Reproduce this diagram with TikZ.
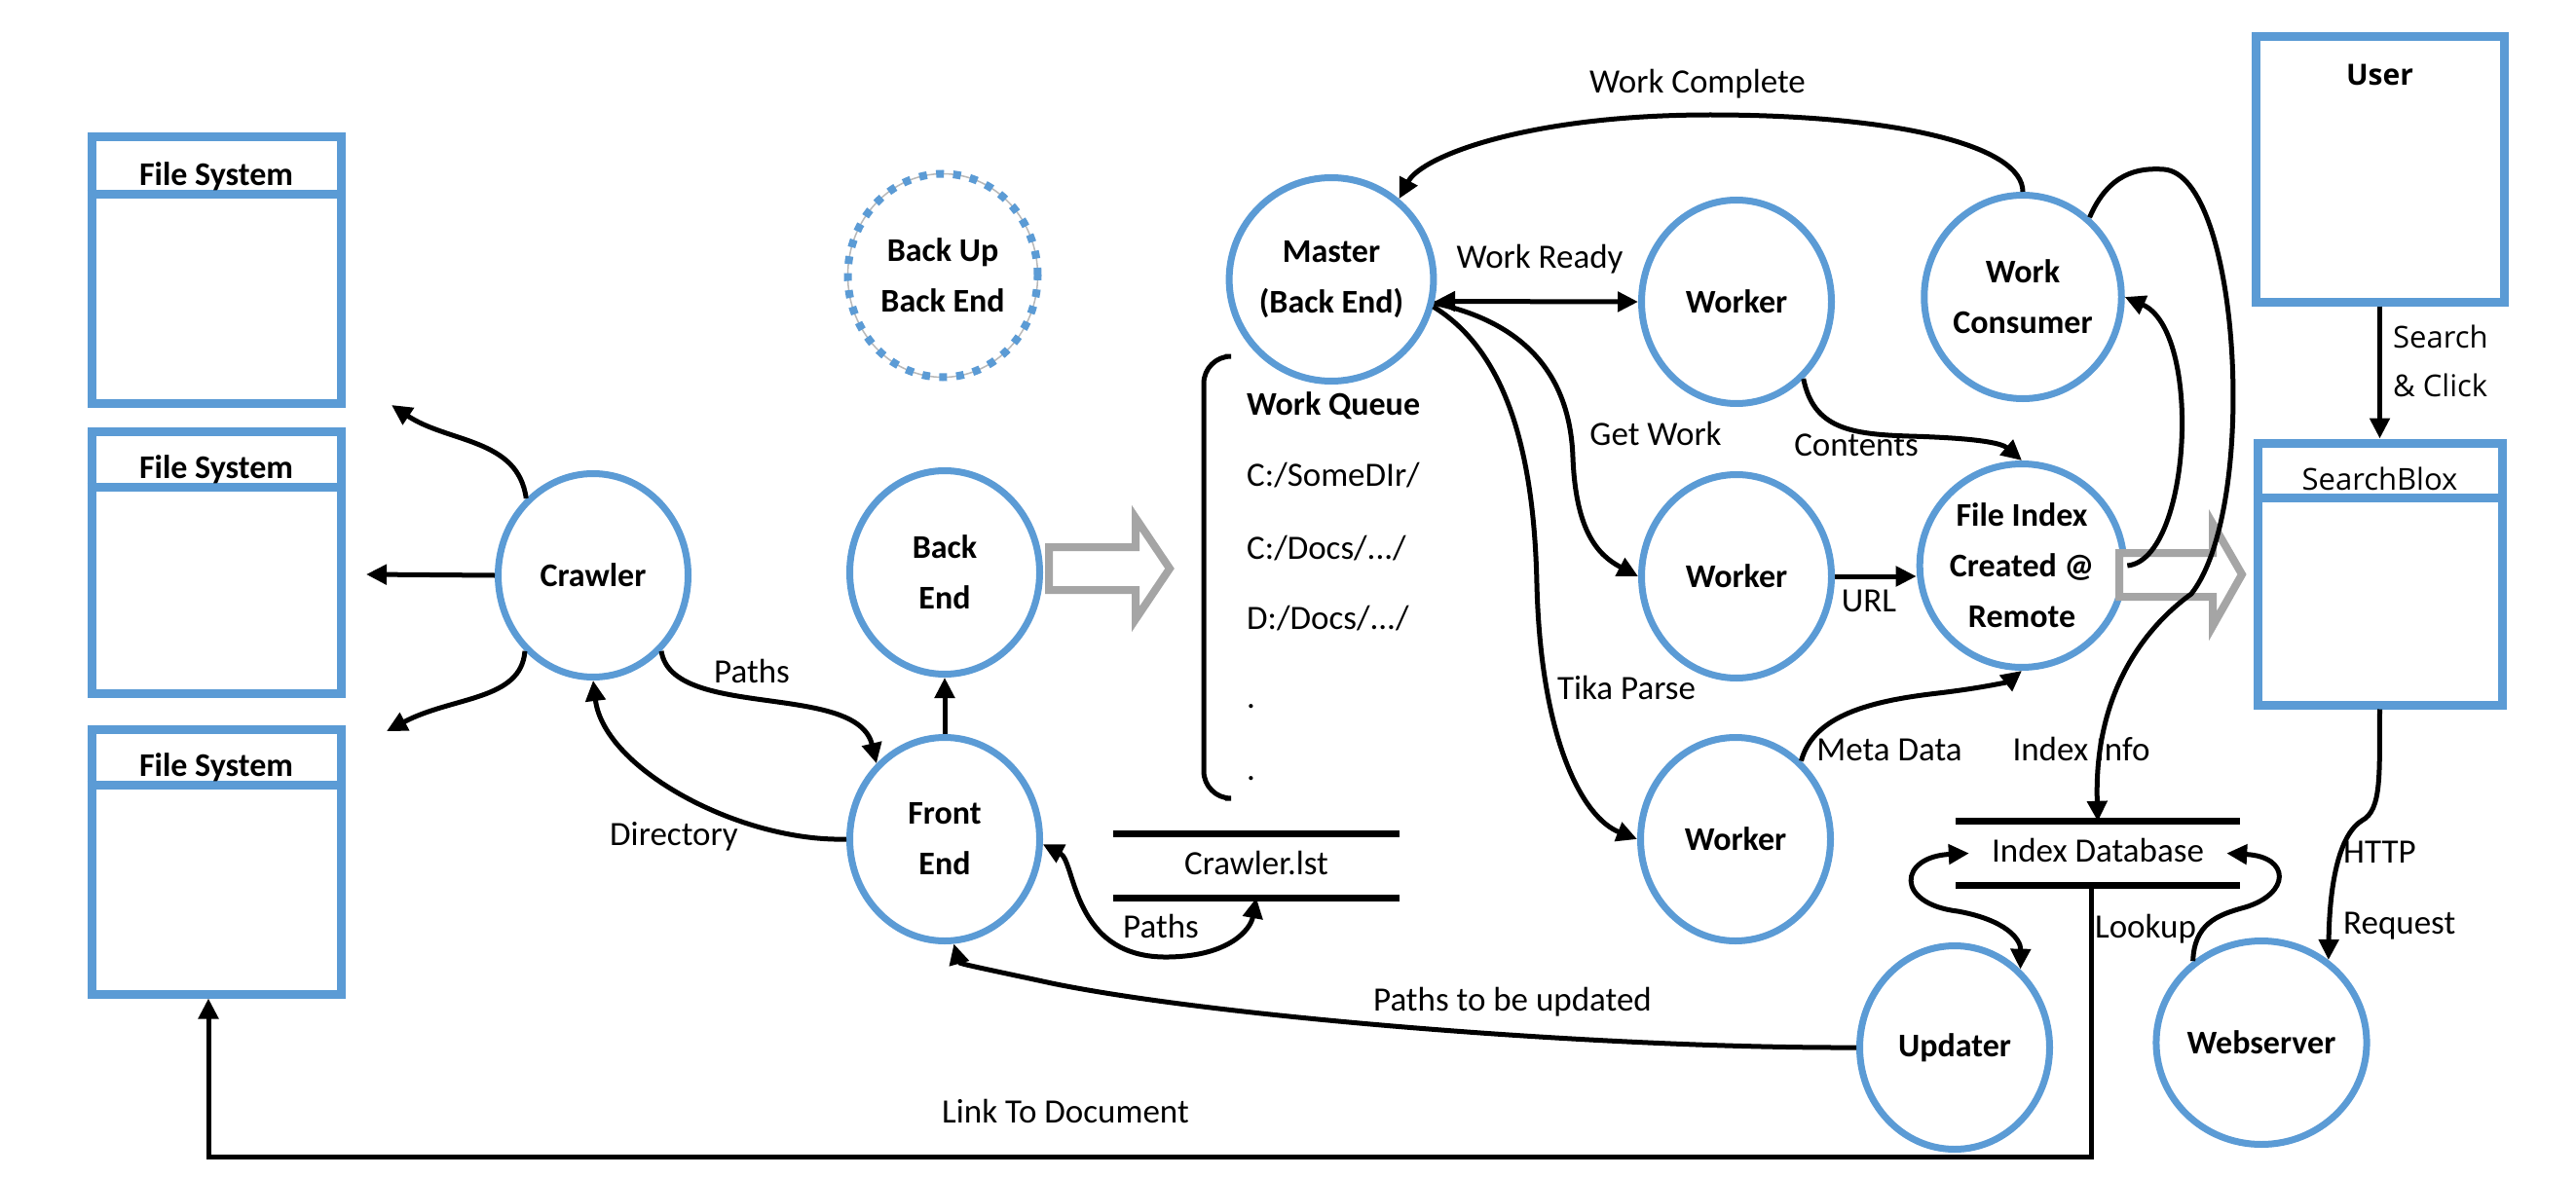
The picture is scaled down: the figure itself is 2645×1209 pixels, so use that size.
\documentclass[tikz,border=0pt]{standalone}
\usepackage{fontspec}
\setmainfont{Carlito}
\newfontfamily\osans{Open Sans}
\usetikzlibrary{arrows.meta,shapes.geometric,calc}
\definecolor{blu}{RGB}{91,155,213}
\definecolor{gry}{RGB}{165,165,165}
\begin{document}
\begin{tikzpicture}[x=1pt,y=-1pt,
  proc/.style={ellipse, draw=blu, line width=7pt, minimum width=195pt, minimum height=209pt, inner sep=0pt, align=center, font=\bfseries\fontsize{34}{52}\selectfont},
  store/.style={draw=blu, line width=9pt, inner sep=0pt},
  hdr/.style={font=\bfseries\fontsize{34}{40}\selectfont, anchor=base, inner sep=0pt},
  lbl/.style={font=\fontsize{35}{42}\selectfont, inner sep=0pt, text height=24pt, text depth=7pt},
  qtxt/.style={lbl, anchor=west},
  arr/.style={line width=5pt, -{Triangle[length=21pt,width=20pt]}},
  darr/.style={line width=5pt, {Triangle[length=21pt,width=20pt]}-{Triangle[length=21pt,width=20pt]}},
  hollow/.style={draw=gry, line width=8pt, fill=white, line join=miter},
  bar/.style={line width=7pt, black}
]
\useasboundingbox[fill=white] (0,0) rectangle (2645,1209);

% ---------- stores (boxes) ----------
\node[store, minimum width=256pt, minimum height=273pt] (fs1) at (222,277.5) {};
\draw[store] (fs1.west |- 0,200) -- (fs1.east |- 0,200);
\node[hdr] (fs1t) at (222,191) {File System};

\node[store, minimum width=256pt, minimum height=269pt] (fs2) at (222,577.5) {};
\draw[store] (fs2.west |- 0,500) -- (fs2.east |- 0,500);
\node[hdr] (fs2t) at (222,491) {File System};

\node[store, minimum width=256pt, minimum height=272pt] (fs3) at (222,885) {};
\draw[store] (fs3.west |- 0,806) -- (fs3.east |- 0,806);
\node[hdr] (fs3t) at (222,797) {File System};

\node[store, minimum width=255pt, minimum height=272pt] (user) at (2443.5,174) {};
\node[hdr, font=\osans\bfseries\fontsize{30}{36}\selectfont] (usert) at (2443.5,88) {User};

\node[store, minimum width=251pt, minimum height=269pt] (searchblox) at (2443.5,589.5) {};
\draw[store] (searchblox.west |- 0,511) -- (searchblox.east |- 0,511);
\node[hdr, font=\osans\fontsize{31}{36}\selectfont] (sbt) at (2443.5,503) {SearchBlox};

% ---------- processes ----------
\node[proc] (crawler) at (609,591) {Crawler};
\node[proc, draw=none] (backup) at (968,283) {Back Up\\Back End};
\draw[gray!55, line width=1.5pt] (backup.center) ellipse [x radius=97.5pt, y radius=104.5pt];
\draw[blu, line width=8pt, dash pattern=on 8pt off 9.5pt] (backup.center) ellipse [x radius=97.5pt, y radius=104.5pt];
\node[proc] (backend) at (970,588) {Back\\End};
\node[proc] (frontend) at (970,862) {Front\\End};
\node[proc] (master) at (1367,287) {Master\\(Back End)};
\node[proc] (worker1) at (1783,310) {Worker};
\node[proc] (consumer) at (2077,305) {Work\\Consumer};
\node[proc] (worker2) at (1783,592) {Worker};
\node[proc] (fileindex) at (2076,581) {File Index\\Created @\\Remote};
\node[proc] (worker3) at (1782,862) {Worker};
\node[proc] (updater) at (2007,1076) {Updater};
\node[proc] (webserver) at (2322,1071) {Webserver};

% ---------- data stores with bars ----------
\node[lbl, minimum width=294pt, minimum height=65pt] (clst) at (1290,889.5) {Crawler.lst};
\draw[bar] (clst.north west) -- (clst.north east);
\draw[bar] (clst.south west) -- (clst.south east);

\node[lbl, minimum width=292pt, minimum height=65pt] (idb) at (2154,876.5) {Index Database};
\draw[bar] (idb.north west) -- (idb.north east);
\draw[bar] (idb.south west) -- (idb.south east);

% ---------- work queue ----------
\draw[line width=5pt, rounded corners=28pt] (1258,366) -- (1236,366) -- (1236,820) -- (1258,820);
\node[qtxt, font=\bfseries\fontsize{34}{40}\selectfont] (wq) at (1280,418) {Work Queue};
\node[qtxt] (q1) at (1280,491) {C:/SomeDIr/};
\node[qtxt] (q2) at (1280,566) {C:/Docs/.../};
\node[qtxt] (q3) at (1280,638) {D:/Docs/.../};
\node[qtxt] (q4) at (1280,719) {.};
\node[qtxt] (q5) at (1280,793) {.};

% ---------- hollow gray arrows ----------
\draw[hollow] (1077,562) -- (1166,562) -- (1166,532) -- (1201,584) -- (1166,636) -- (1166,606) -- (1077,606) -- cycle;
\draw[hollow] (2176,568) -- (2272,568) -- (2272,538) -- (2302,590) -- (2272,643) -- (2272,613) -- (2176,613) -- cycle;

% ---------- free ends ----------
\coordinate (fsA) at (402,416);
\coordinate (fsB) at (376,590);
\coordinate (fsC) at (397,751);
\coordinate (lk) at (214,1188);

% ---------- connectors ----------
\draw[arr] (crawler.131) .. controls (532,450) and (460,455) .. (fsA);
\draw[arr] (crawler.west) -- (fsB);
\draw[arr] (crawler.-132) .. controls (535,720) and (465,715) .. (fsC);
\draw[arr] (crawler.-48) .. controls (690,740) and (880,700) .. (frontend.132);
\draw[arr] (frontend.west) .. controls (760,865) and (620,790) .. (crawler.south);
\draw[arr] (frontend.north) -- (backend.south);
\draw[darr] (frontend.-3) .. controls (1105,885) and (1100,985) .. (1200,983) .. controls (1262,982) and (1284,955) .. (clst.south);

\draw[darr] (master.-12) -- (worker1.west);
\draw[arr] (master.-13) .. controls (1560,330) and (1612,380) .. (1615,470) .. controls (1618,545) and (1640,570) .. (worker2.west);
\draw[arr] (master.-15) .. controls (1545,360) and (1575,460) .. (1578,600) .. controls (1582,760) and (1625,840) .. (worker3.west);
\draw[arr] (consumer.north) .. controls (2077,150) and (1950,118) .. (1756,118) .. controls (1570,118) and (1460,160) .. (master.50);
\draw[arr] (worker1.-49) .. controls (1862,440) and (1900,446) .. (1960,448) .. controls (2030,450) and (2055,455) .. (fileindex.north);
\draw[arr] (worker2.east) -- (worker2.east -| fileindex.west);
\draw[arr] (worker3.50) .. controls (1862,735) and (1920,720) .. (1990,712) .. controls (2040,706) and (2062,700) .. (fileindex.south);
\draw[arr] (fileindex.east) .. controls (2250,575) and (2262,340) .. (consumer.east);
\draw[arr] (consumer.50) .. controls (2165,178) and (2195,172) .. (2222,174) .. controls (2300,180) and (2320,520) .. (2250,610) .. controls (2195,650) and (2150,720) .. (idb.north);
\draw[darr] ($(idb.west)+(14,0)$) .. controls (1950,880) and (1945,928) .. (2010,936) .. controls (2060,945) and (2075,965) .. (updater.50);
\draw[arr] (webserver.130) .. controls (2253,950) and (2275,940) .. (2305,932) .. controls (2352,918) and (2352,880) .. ($(idb.east)+(-14,0)$);
\draw[arr] (searchblox.south) .. controls (2443,795) and (2446,832) .. (2425,843) .. controls (2404,856) and (2392,900) .. (webserver.51);
\draw[arr] (user.south) -- (searchblox.north);
\draw[arr] ($(idb.south)+(-7,0)$) |- (lk) -- (lk |- fs3.south);
\draw[arr] (updater.west) .. controls (1650,1077) and (1250,1045) .. (1080,1010) .. controls (1020,997) and (985,990) .. (frontend.-85);

% ---------- labels ----------
\node[lbl] (lpaths1) at (772,693) {Paths};
\node[lbl] (ldir) at (692,860) {Directory};
\node[lbl] (lpaths2) at (1192,955) {Paths};
\node[lbl] (llink) at (1094,1145) {Link To Document};
\node[lbl] (lupd) at (1553,1030) {Paths to be updated};
\node[lbl] (lwc) at (1743,87) {Work Complete};
\node[lbl] (lwr) at (1581,267) {Work Ready};
\node[lbl] (lgw) at (1700,449) {Get Work};
\node[lbl] (lcont) at (1906,460) {Contents};
\node[lbl] (lurl) at (1919,620) {URL};
\node[lbl] (ltika) at (1670,710) {Tika Parse};
\node[lbl] (lmeta) at (1940,773) {Meta Data};
\node[lbl] (linfo) at (2137,773) {Index Info};
\node[lbl] (llook) at (2203,955) {Lookup};
\node[lbl, anchor=west] (lhttp) at (2406,878) {HTTP};
\node[lbl, anchor=west] (lreq) at (2406,951) {Request};
\node[lbl, anchor=west, font=\osans\fontsize{31}{36}\selectfont] (lsearch) at (2457,349) {Search};
\node[lbl, anchor=west, font=\osans\fontsize{31}{36}\selectfont] (lclick) at (2457,399) {\& Click};
\end{tikzpicture}
\end{document}
